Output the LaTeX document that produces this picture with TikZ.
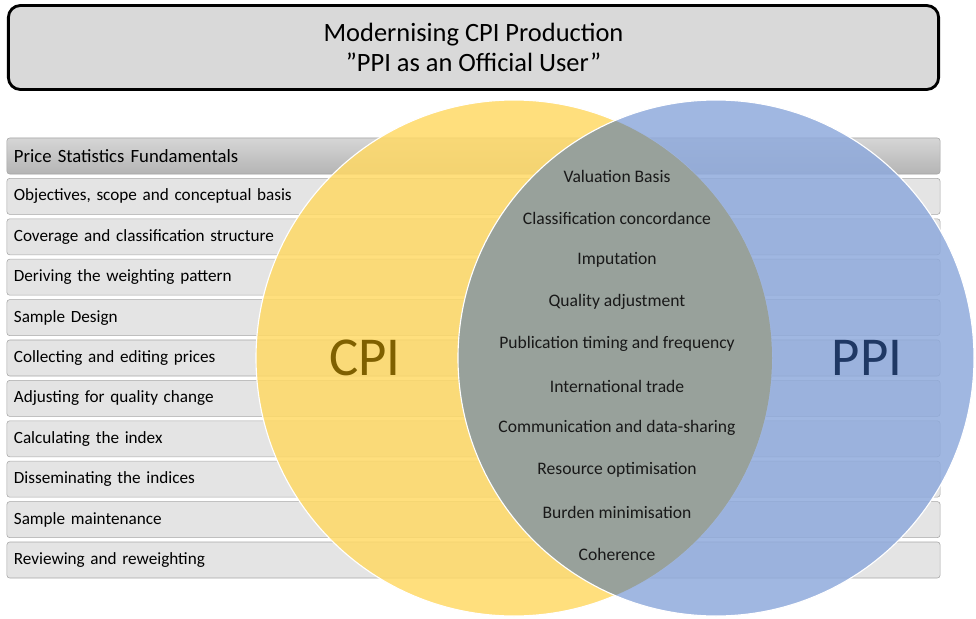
\documentclass[tikz,border=0pt]{standalone}
\usepackage{fontspec}
\setmainfont{Carlito}
\usetikzlibrary{positioning}

\definecolor{cpiyellow}{HTML}{FFD966}
\definecolor{ppiblue}{HTML}{8FAADC}
\definecolor{overlapgray}{HTML}{98A097}
\definecolor{barfill}{HTML}{E4E4E4}
\definecolor{barline}{HTML}{A6A6A6}
\definecolor{hdrtop}{HTML}{D6D6D6}
\definecolor{hdrbot}{HTML}{B4B4B4}
\definecolor{titlefill}{HTML}{D9D9D9}
\definecolor{cpitext}{HTML}{7F6000}
\definecolor{ppitext}{HTML}{1F3864}

\begin{document}
\begin{tikzpicture}[x=0.025cm, y=-0.025cm,
    titlebox/.style={draw=black, line width=2pt, fill=titlefill, rounded corners=0.3cm,
        minimum width=23.25cm, minimum height=2.1cm, align=center,
        font=\fontsize{18.8}{21.8}\selectfont},
    stage/.style={draw=barline, fill=barfill, rounded corners=2pt,
        minimum width=23.325cm, minimum height=0.9cm, text width=22.975cm,
        inner xsep=0.175cm, align=left, font=\fontsize{12.2}{15}\selectfont},
    header/.style={stage, top color=hdrtop, bottom color=hdrbot,
        font=\fontsize{13.3}{16}\selectfont},
    common/.style={font=\fontsize{12.5}{15}\selectfont, text=black!90},
    biglabel/.style={font=\fontsize{39}{45}\selectfont}]
    \useasboundingbox (0,0) rectangle (976,619);
    \def\gap{40.4}
    \def\step{42}
    \def\rad{258}

    \node[titlebox] (title) at (473.5, 47.5) {Modernising CPI Production\\”PPI as an Official User”};

    \node[header] (hdr) at (473.5, 156) {Price Statistics Fundamentals};
    \node[stage] (s1) at (473.5, 156+\gap) {Objectives, scope and conceptual basis};
    \node[stage] (s2) at (473.5, 156+2*\gap) {Coverage and classification structure};
    \node[stage] (s3) at (473.5, 156+3*\gap) {Deriving the weighting pattern};
    \node[stage] (s4) at (473.5, 156+4*\gap) {Sample Design};
    \node[stage] (s5) at (473.5, 156+5*\gap) {Collecting and editing prices};
    \node[stage] (s6) at (473.5, 156+6*\gap) {Adjusting for quality change};
    \node[stage] (s7) at (473.5, 156+7*\gap) {Calculating the index};
    \node[stage] (s8) at (473.5, 156+8*\gap) {Disseminating the indices};
    \node[stage] (s9) at (473.5, 156+9*\gap) {Sample maintenance};
    \node[stage] (s10) at (473.5, 156+10*\gap) {Reviewing and reweighting};

    % the two circles, blue on top
    \fill[cpiyellow, fill opacity=0.85] (514, 358) circle[radius=\rad];
    \draw[white, line width=0.8pt] (514, 358) circle[radius=\rad];
    \fill[ppiblue, fill opacity=0.85] (716, 358) circle[radius=\rad];
    \begin{scope}
        \clip (514, 358) circle[radius=\rad];
        \fill[overlapgray, fill opacity=0.92] (716, 358) circle[radius=\rad];
    \end{scope}
    \draw[white, line width=0.8pt] (716, 358) circle[radius=\rad];

    \node[biglabel, text=cpitext] (cpi) at (365, 358) {CPI};
    \node[biglabel, text=ppitext] (ppi) at (867, 358) {PPI};

    \node[common] (c1) at (617, 176) {Valuation Basis};
    \node[common] (c2) at (617, 176+\step) {Classification concordance};
    \node[common] (c3) at (617, 176+2*\step) {Imputation};
    \node[common] (c4) at (617, 176+3*\step) {Quality adjustment};
    \node[common] (c5) at (617, 176+4*\step) {Publication timing and frequency};
    \node[common] (c6) at (617, 176+5*\step) {International trade};
    \node[common] (c7) at (617, 176+6*\step) {Communication and data-sharing};
    \node[common] (c8) at (617, 176+7*\step) {Resource optimisation};
    \node[common] (c9) at (617, 176+8*\step) {Burden minimisation};
    \node[common] (c10) at (617, 176+9*\step) {Coherence};
\end{tikzpicture}
\end{document}
